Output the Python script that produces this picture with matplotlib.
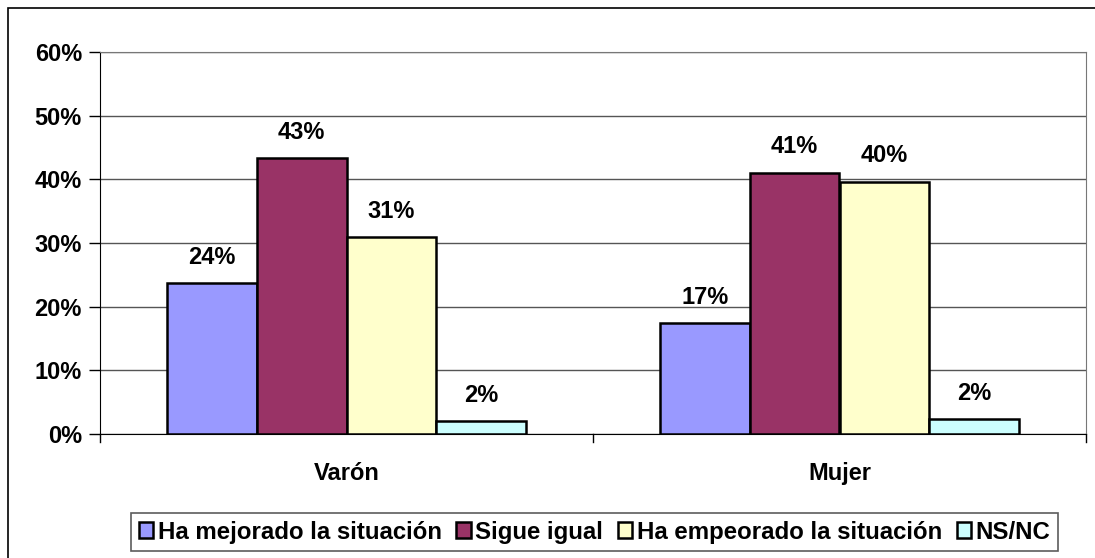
import numpy as np
import matplotlib.pyplot as plt
from matplotlib.patches import Rectangle

# Encuesta: percepción de la situación por sexo
grupos = ["Varón", "Mujer"]
series = ["Ha mejorado la situación", "Sigue igual",
          "Ha empeorado la situación", "NS/NC"]
valores = {
    "Ha mejorado la situación": [23.7, 17.4],
    "Sigue igual": [43.3, 41.0],
    "Ha empeorado la situación": [30.9, 39.6],
    "NS/NC": [2.0, 2.3],
}
colores = ["#9999FF", "#993366", "#FFFFCC", "#CCFFFF"]
ticks_y = [0, 10, 20, 30, 40, 50, 60]

plt.rcParams['font.family'] = ['Liberation Sans', 'DejaVu Sans']
fs = 17

fig = plt.figure(figsize=(10.95, 5.58), dpi=100)
ax = fig.add_axes([100 / 1095, 1 - 434 / 558, 986 / 1095, 382 / 558])

# marco exterior del gráfico
fig.patches.append(Rectangle((8 / 1095, -0.05), 1.1, 1 - 8 / 558 + 0.05,
                             transform=fig.transFigure, fill=False,
                             edgecolor='black', linewidth=1.2))

ancho = 1 / 5.5
x = np.arange(len(grupos))
for i, (nombre, color) in enumerate(zip(series, colores)):
    pos = x - 2 * ancho + i * ancho + ancho / 2
    barras = ax.bar(pos, valores[nombre], width=ancho, color=color,
                    edgecolor='black', linewidth=1.8, label=nombre, zorder=3)
    for b, v in zip(barras, valores[nombre]):
        ax.text(b.get_x() + b.get_width() / 2, v + 4.1, f"{round(v):.0f}%",
                ha='center', va='center', fontsize=fs, fontweight='bold')

ax.set_xlim(-0.5, 1.5)
ax.set_ylim(0, 60)
ax.set_yticks(ticks_y)
ax.set_yticklabels([f"{t}%" for t in ticks_y], fontsize=fs, fontweight='bold')
ax.yaxis.grid(True, color='#555555', linewidth=1.0, zorder=0)
ax.tick_params(axis='y', length=8, width=1, pad=5)

ax.set_xticks(x)
ax.set_xticklabels(grupos, fontsize=fs, fontweight='bold')
ax.tick_params(axis='x', length=0, pad=20)
for xb in [-0.5, 0.5, 1.5]:
    ax.plot([xb, xb], [0, -0.022], transform=ax.get_xaxis_transform(),
            color='black', linewidth=1, clip_on=False)

for lado in ['top', 'right']:
    ax.spines[lado].set_color('#777777')
ax.spines['left'].set_color('black')
ax.spines['bottom'].set_color('black')

leg = fig.legend(loc='lower center', bbox_to_anchor=(0.543, 0.013), ncol=4,
                 frameon=True, fancybox=False, edgecolor='#333333',
                 prop={'weight': 'bold', 'size': 17.3},
                 handlelength=0.6, handleheight=0.6, handletextpad=0.2,
                 columnspacing=0.6, borderpad=0.3, borderaxespad=0)
leg.get_frame().set_linewidth(1.2)

fig.savefig("out.png", dpi=100)
